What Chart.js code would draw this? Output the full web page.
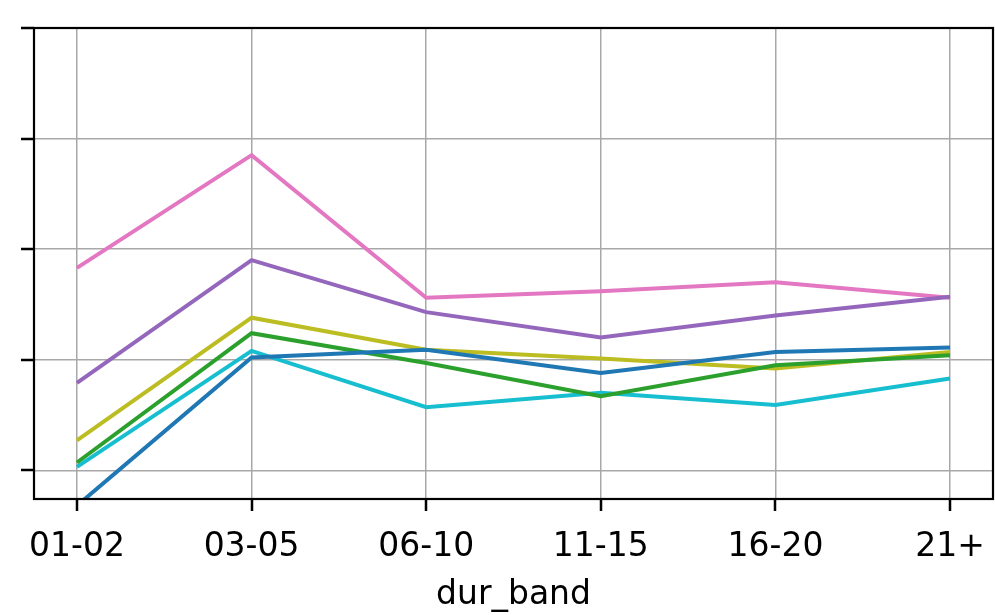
<!DOCTYPE html>
<html>
<head>
<meta charset="utf-8">
<script src="https://cdn.jsdelivr.net/npm/chart.js@4/dist/chart.umd.min.js"></script>
<style>
  html, body { margin: 0; padding: 0; background: #ffffff; }
  #wrap { width: 995px; height: 615px; position: relative; }
</style>
</head>
<body>
<div id="wrap"><canvas id="c" width="995" height="615"></canvas></div>
<script>
// Duration bands on the x axis
const categories = ['01-02', '03-05', '06-10', '11-15', '16-20', '21+'];

// One series per line, values per duration band
const seriesBlue   = [-0.32, 1.02, 1.09, 0.88, 1.07, 1.11];
const seriesGreen  = [0.07, 1.24, 0.97, 0.67, 0.95, 1.04];
const seriesPurple = [0.79, 1.90, 1.43, 1.20, 1.40, 1.57];
const seriesPink   = [1.83, 2.85, 1.56, 1.62, 1.70, 1.56];
const seriesOlive  = [0.27, 1.38, 1.09, 1.01, 0.92, 1.07];
const seriesCyan   = [0.03, 1.08, 0.57, 0.70, 0.59, 0.83];

// Y tick positions (labels are not shown)
const yTicks = [0, 1, 2, 3, 4];

const toPoints = vals => vals.map((v, i) => ({ x: i, y: v }));

const lines = [
  { values: seriesBlue,   color: '#1f77b4' },
  { values: seriesGreen,  color: '#2ca02c' },
  { values: seriesPurple, color: '#9467bd' },
  { values: seriesPink,   color: '#e377c2' },
  { values: seriesOlive,  color: '#bcbd22' },
  { values: seriesCyan,   color: '#17becf' }
];

// Outline the plot area on all four sides and draw outward tick marks
const frame = {
  id: 'frame',
  afterDraw(chart) {
    const { ctx, chartArea: a, scales } = chart;
    ctx.save();
    ctx.strokeStyle = '#000000';
    ctx.lineWidth = 2.2;
    ctx.strokeRect(a.left, a.top, a.right - a.left, a.bottom - a.top);
    ctx.beginPath();
    scales.x.ticks.forEach(t => {
      const px = Math.round(scales.x.getPixelForValue(t.value));
      ctx.moveTo(px, a.bottom);
      ctx.lineTo(px, a.bottom + 12);
    });
    scales.y.ticks.forEach(t => {
      const py = Math.round(scales.y.getPixelForValue(t.value));
      ctx.moveTo(a.left, py);
      ctx.lineTo(a.left - 13, py);
    });
    ctx.lineWidth = 2.5;
    ctx.stroke();
    ctx.restore();
  }
};

new Chart(document.getElementById('c'), {
  type: 'line',
  data: {
    datasets: lines.map(l => ({
      data: toPoints(l.values),
      borderColor: l.color,
      backgroundColor: l.color,
      borderWidth: 4,
      pointRadius: 0,
      tension: 0,
      fill: false
    }))
  },
  options: {
    responsive: false,
    animation: false,
    devicePixelRatio: 1,
    layout: { padding: { left: 0, right: 2, top: 28, bottom: 0 } },
    plugins: { legend: { display: false }, tooltip: { enabled: false } },
    scales: {
      x: {
        type: 'linear',
        min: -0.246,
        max: 5.246,
        afterBuildTicks: s => { s.ticks = categories.map((_, i) => ({ value: i })); },
        afterFit: s => { s.height = 116; s.paddingLeft = 0; s.paddingRight = 0; },
        ticks: {
          callback: v => categories[v],
          color: '#000000',
          font: { family: 'DejaVu Sans', size: 33 },
          padding: 29,
          maxRotation: 0,
          autoSkip: false
        },
        grid: { color: '#a8a8a8', lineWidth: 1.5, drawTicks: false },
        border: { color: '#000000', width: 2 },
        title: {
          display: true,
          text: 'dur_band',
          color: '#000000',
          font: { family: 'DejaVu Sans', size: 33 },
          padding: { top: 0, bottom: 0 }
        }
      },
      y: {
        type: 'linear',
        min: -0.26,
        max: 4,
        afterBuildTicks: s => { s.ticks = yTicks.map(v => ({ value: v })); },
        afterFit: s => { s.width = 34; s.paddingTop = 0; s.paddingBottom = 0; },
        ticks: { display: false },
        grid: { color: '#a8a8a8', lineWidth: 1.5, drawTicks: false },
        border: { color: '#000000', width: 2 }
      }
    }
  },
  plugins: [frame]
});
</script>
</body>
</html>
